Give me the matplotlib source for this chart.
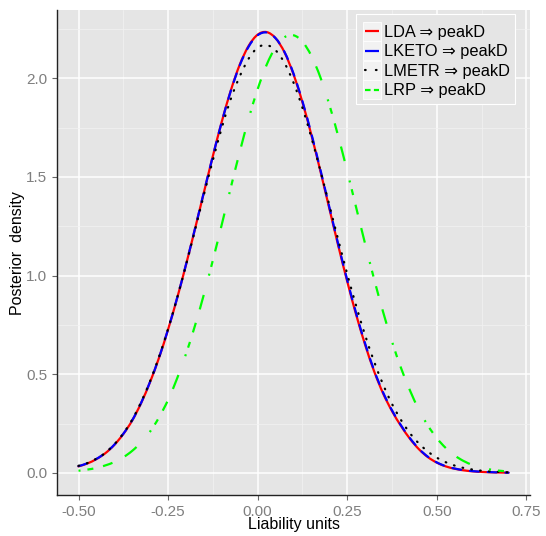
import matplotlib
matplotlib.use("Agg")
import numpy as np
import matplotlib.pyplot as plt
from matplotlib.patches import Rectangle, PathPatch
from matplotlib.path import Path
from matplotlib.lines import Line2D
from matplotlib.legend_handler import HandlerLine2D
from matplotlib.ticker import MultipleLocator

plt.rcParams['font.family'] = ['Liberation Sans', 'DejaVu Sans']

# ---- data ----
x_vals = [-0.500, -0.475, -0.450, -0.425, -0.400, -0.375, -0.350, -0.325, -0.300, -0.275,
          -0.250, -0.225, -0.200, -0.175, -0.150, -0.125, -0.100, -0.075, -0.050, -0.025,
          0.000, 0.025, 0.050, 0.075, 0.100, 0.125, 0.150, 0.175, 0.200, 0.225,
          0.250, 0.275, 0.300, 0.325, 0.350, 0.375, 0.400, 0.425, 0.450, 0.475,
          0.500, 0.525, 0.550, 0.575, 0.600, 0.625, 0.650, 0.675, 0.700]

lda = [0.033, 0.048, 0.070, 0.100, 0.142, 0.197, 0.266, 0.355, 0.462, 0.585,
       0.727, 0.884, 1.055, 1.236, 1.422, 1.606, 1.781, 1.938, 2.069, 2.165,
       2.221, 2.234, 2.203, 2.131, 2.020, 1.878, 1.712, 1.530, 1.340, 1.151,
       0.970, 0.801, 0.649, 0.515, 0.403, 0.313, 0.238, 0.173, 0.120, 0.080,
       0.052, 0.033, 0.021, 0.013, 0.008, 0.005, 0.003, 0.002, 0.001]

lketo = [0.034, 0.049, 0.071, 0.101, 0.143, 0.198, 0.267, 0.356, 0.463, 0.586,
         0.728, 0.885, 1.056, 1.237, 1.423, 1.606, 1.780, 1.936, 2.066, 2.161,
         2.218, 2.232, 2.203, 2.133, 2.024, 1.883, 1.718, 1.537, 1.347, 1.158,
         0.977, 0.808, 0.655, 0.520, 0.408, 0.317, 0.241, 0.176, 0.122, 0.082,
         0.053, 0.034, 0.022, 0.014, 0.009, 0.006, 0.004, 0.002, 0.001]

lmetr = [0.036, 0.050, 0.072, 0.102, 0.145, 0.200, 0.270, 0.360, 0.466, 0.590,
         0.730, 0.885, 1.053, 1.230, 1.410, 1.585, 1.750, 1.895, 2.010, 2.100,
         2.155, 2.168, 2.142, 2.077, 1.978, 1.850, 1.699, 1.532, 1.357, 1.180,
         1.008, 0.846, 0.697, 0.564, 0.448, 0.349, 0.268, 0.201, 0.149, 0.108,
         0.077, 0.054, 0.037, 0.025, 0.017, 0.011, 0.007, 0.005, 0.003]

lrp = [0.011, 0.017, 0.025, 0.038, 0.055, 0.079, 0.112, 0.155, 0.210, 0.282,
       0.370, 0.478, 0.603, 0.746, 0.905, 1.078, 1.260, 1.446, 1.627, 1.796,
       1.945, 2.068, 2.158, 2.208, 2.218, 2.186, 2.113, 2.005, 1.866, 1.705,
       1.528, 1.344, 1.160, 0.982, 0.816, 0.665, 0.532, 0.418, 0.320, 0.240,
       0.176, 0.126, 0.088, 0.060, 0.040, 0.026, 0.017, 0.011, 0.007]

series_labels = ["LDA \u21d2 peakD", "LKETO \u21d2 peakD", "LMETR \u21d2 peakD", "LRP \u21d2 peakD"]
series_colors = ["#FF0000", "#0000FF", "#000000", "#00FF00"]

x_ticks = [-0.50, -0.25, 0.00, 0.25, 0.50, 0.75]
x_tick_labels = ["-0.50", "-0.25", "0.00", "0.25", "0.50", "0.75"]
y_ticks = [0.0, 0.5, 1.0, 1.5, 2.0]
y_tick_labels = ["0.0", "0.5", "1.0", "1.5", "2.0"]

# ---- figure ----
W, H = 546, 536
fig = plt.figure(figsize=(W / 100, H / 100), dpi=100)
ax = fig.add_axes([57 / W, 1 - 495 / H, (530 - 57) / W, (495 - 10) / H])
ax.set_facecolor("#E5E5E5")
ax.set_xlim(-0.56, 0.76)
ax.set_ylim(-0.112, 2.346)

ax.set_xticks(x_ticks)
ax.set_xticklabels(x_tick_labels)
ax.set_yticks(y_ticks)
ax.set_yticklabels(y_tick_labels)
ax.xaxis.set_minor_locator(MultipleLocator(0.125))
ax.yaxis.set_minor_locator(MultipleLocator(0.25))
ax.grid(which="major", color="white", linewidth=1.1)
ax.grid(which="minor", color="#F2F2F2", linewidth=0.5)
ax.set_axisbelow(True)
ax.tick_params(which="minor", length=0)
ax.tick_params(which="major", length=3.4, width=0.8, color="#666666",
               labelsize=11, labelcolor="#7F7F7F", pad=3.5)

for s in ["top", "right"]:
    ax.spines[s].set_visible(False)
for s in ["left", "bottom"]:
    ax.spines[s].set_color("#222222")
    ax.spines[s].set_linewidth(1.0)


def smooth_path(xs, ys):
    """Smooth curve through the given points (cubic Bezier, Catmull-Rom tangents)."""
    P = np.column_stack([xs, ys]).astype(float)
    T = np.zeros_like(P)
    T[1:-1] = (P[2:] - P[:-2]) / 2.0
    T[0] = P[1] - P[0]
    T[-1] = P[-1] - P[-2]
    verts = [P[0]]
    codes = [Path.MOVETO]
    for i in range(len(P) - 1):
        verts += [P[i] + T[i] / 3.0, P[i + 1] - T[i + 1] / 3.0, P[i + 1]]
        codes += [Path.CURVE4] * 3
    return Path(verts, codes)


lw = 1.6
styles = [
    dict(linestyle="solid", capstyle="round"),
    dict(linestyle=(0, (4, 4)), capstyle="round"),
    dict(linestyle=(0, (0.3, 3.7)), capstyle="round"),
    dict(linestyle=(0, (0.9, 3.15, 2.7, 4.5, 4.5, 6.3, 6.75, 9.0)), capstyle="butt"),
]
legend_styles = [
    dict(linestyle="solid", solid_capstyle="butt"),
    dict(linestyle="solid", solid_capstyle="butt"),
    dict(linestyle=(0, (0.3, 4.6)), dash_capstyle="round"),
    dict(linestyle=(0, (2.5, 1.5)), dash_capstyle="butt"),
]

for ys, col, st in zip([lda, lketo, lmetr, lrp], series_colors, styles):
    ax.add_patch(PathPatch(smooth_path(x_vals, ys), fill=False, edgecolor=col,
                           linewidth=lw, joinstyle="round", **st))

handles = [Line2D([], [], color=c, lw=lw, **st) for c, st in zip(series_colors, legend_styles)]


class KeyHandler(HandlerLine2D):
    def create_artists(self, legend, orig_handle, xdescent, ydescent, width, height,
                       fontsize, trans):
        arts = super().create_artists(legend, orig_handle, xdescent, ydescent, width,
                                      height, fontsize, trans)
        cy = height / 2 - ydescent
        h = 13.7
        rect = Rectangle((-xdescent - 1.6, cy - h / 2), width + 3.2, h,
                         facecolor="#F2F2F2", edgecolor="white", lw=0.6,
                         transform=trans)
        return [rect] + arts


# legend background box
frame = Rectangle((356 / W, 1 - 104 / H), (515 - 356) / W, (104 - 14) / H,
                  transform=fig.transFigure, facecolor="#E5E5E5", edgecolor="white",
                  linewidth=0.8, zorder=4)
fig.add_artist(frame)

hk = KeyHandler()
leg = fig.legend(handles, series_labels, loc="center left",
                 bbox_to_anchor=(365 / W, 1 - 61.7 / H),
                 fontsize=11.8, frameon=False,
                 handlelength=0.855, handletextpad=0.3, labelspacing=0.27,
                 borderpad=0, borderaxespad=0,
                 handler_map={l: hk for l in handles})
leg.set_zorder(5)

fig.text((57 + 530) / 2 / W, 1 - 525 / H, "Liability units", ha="center", va="center",
         fontsize=11.5, color="black")
fig.text(18 / W, 1 - 253 / H, "Posterior  density", ha="center", va="center",
         rotation=90, fontsize=11.5, color="black")

fig.savefig("out.png", dpi=100, facecolor="white")
